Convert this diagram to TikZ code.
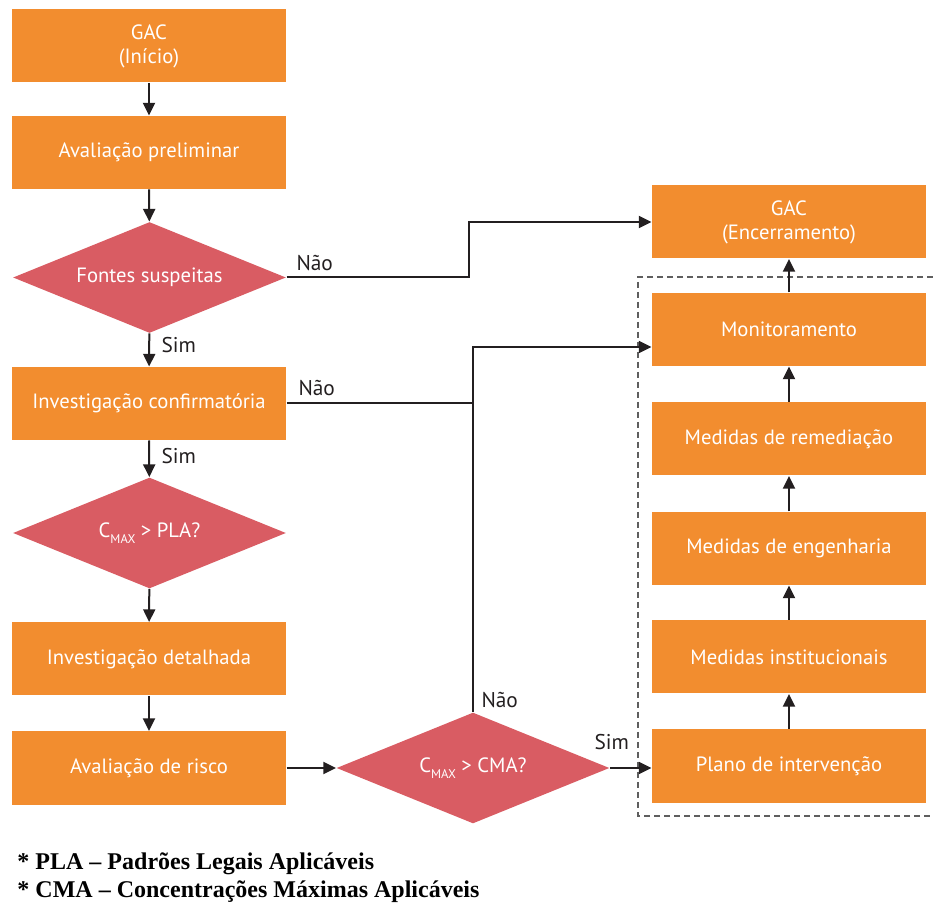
\documentclass[tikz,border=0pt]{standalone}
\usepackage{fontspec}
\setmainfont{PT Sans}
\newfontfamily\notefont{Liberation Serif}
\usetikzlibrary{shapes.geometric,arrows.meta}

\definecolor{gacorange}{RGB}{242,141,47}
\definecolor{gacred}{RGB}{217,92,99}
\definecolor{gacline}{RGB}{35,31,32}
\definecolor{gacdash}{RGB}{95,95,95}

\tikzset{every picture/.style={line width=0.75pt}}
\tikzset{
  etapa/.style={fill=gacorange, text=white, minimum width=205.5pt, minimum height=54.75pt, inner sep=0pt, align=center, font=\fontsize{15.5}{18}\selectfont},
  decisao/.style={diamond, fill=gacred, text=white, minimum width=204.75pt, minimum height=83.25pt, aspect=2.46, inner sep=0pt, font=\fontsize{15.5}{18}\selectfont},
  seta/.style={draw=gacline, line width=1.5pt, -{Triangle[length=9.5pt,width=9pt]}},
  ligacao/.style={draw=gacline, line width=1.5pt},
  rotulo/.style={text=gacline, inner sep=0pt, anchor=base west, font=\fontsize{16}{19}\selectfont}
}
\newcommand{\cmaxsub}{C\raisebox{-0.55ex}{\fontsize{9.5}{9.5}\selectfont MAX}}

\begin{document}
\begin{tikzpicture}[x=0.75pt,y=0.75pt,yscale=-1,xscale=1]
\useasboundingbox (0,0) rectangle (933,905);

%Shape: Dashed frame (open on the right)
\draw [gacdash, line width=1.1pt, dash pattern={on 4.5pt off 3pt}] (933,277) -| (638,816) -- (933,816) ;

%Shape: Left column
\node [etapa] (gac) at (149,46) {GAC\\(Início)};
\node [etapa] (avprel) at (149,152.5) {Avaliação preliminar};
\node [decisao] (fontes) at (149.5,277.5) {Fontes suspeitas};
\node [etapa] (invconf) at (149,403.5) {Investigação confirmatória};
\node [decisao] (pla) at (149.5,533) {\cmaxsub{} > PLA?};
\node [etapa] (invdet) at (149,659) {Investigação detalhada};
\node [etapa] (avrisco) at (149,768) {Avaliação de risco};

%Shape: Middle decision
\node [decisao] (cma) at (473,768) {\cmaxsub{} > CMA?};

%Shape: Right column
\node [etapa] (gacfim) at (789,222) {GAC\\(Encerramento)};
\node [etapa] (monit) at (789,329.5) {Monitoramento};
\node [etapa] (remed) at (789,439) {Medidas de remediação};
\node [etapa] (engen) at (789,548.5) {Medidas de engenharia};
\node [etapa] (instit) at (789,657) {Medidas institucionais};
\node [etapa] (plano) at (789,766) {Plano de intervenção};

%Straight Lines
\draw [seta] (gac) -- (avprel) ;
\draw [seta] (avprel) -- (fontes) ;
\draw [seta] (fontes) -- (invconf) ;
\draw [seta] (invconf) -- (pla) ;
\draw [seta] (pla) -- (invdet) ;
\draw [seta] (invdet) -- (avrisco) ;
\draw [seta] (avrisco) -- (cma) ;
\draw [seta] (cma) -- (plano.west |- cma) ;
\draw [seta] (plano) -- (instit) ;
\draw [seta] (instit) -- (engen) ;
\draw [seta] (engen) -- (remed) ;
\draw [seta] (remed) -- (monit) ;
\draw [seta] (monit) -- (gacfim) ;

%Straight Lines: Não branches
\coordinate (jogfontes) at (469,222) ;
\coordinate (jogcma) at (473,347) ;
\draw [seta] (fontes.east) -| (jogfontes) -- (gacfim.west |- jogfontes) ;
\draw [ligacao] (invconf.east) -- (invconf.east -| jogcma) ;
\draw [seta] (cma.north) -- (jogcma) -- (monit.west |- jogcma) ;

% Text Node
\node [rotulo] (nao1) at (296,271) {Não};
% Text Node
\node [rotulo] (sim1) at (161,353) {Sim};
% Text Node
\node [rotulo] (nao2) at (298,396) {Não};
% Text Node
\node [rotulo] (sim2) at (161,464) {Sim};
% Text Node
\node [rotulo] (nao3) at (481,708) {Não};
% Text Node
\node [rotulo] (sim3) at (594,749) {Sim};

% Text Node
\node [anchor=north west, inner sep=0pt, align=left, font=\notefont\bfseries\fontsize{18}{21}\selectfont] (nota) at (17,852) {* PLA – Padrões Legais Aplicáveis\\* CMA – Concentrações Máximas Aplicáveis};
\end{tikzpicture}
\end{document}
